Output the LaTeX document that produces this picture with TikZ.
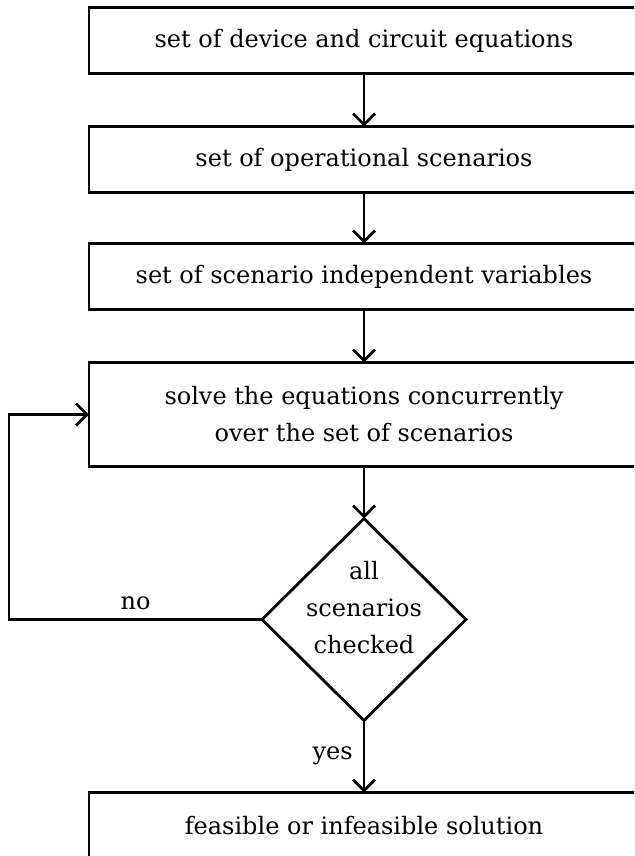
\documentclass[tikz,border=0pt]{standalone}
\usepackage{fontspec}
\setmainfont{DejaVu Serif}
\usetikzlibrary{arrows.meta,positioning,shapes.geometric}

\tikzset{
  stage/.style={draw, line width=2.8pt, minimum width=550pt, minimum height=66pt,
    inner sep=0pt, outer sep=0pt, align=center, font=\fontsize{24}{37}\selectfont},
  decision/.style={draw, diamond, line width=2.8pt, minimum width=204pt,
    minimum height=202pt, inner sep=0pt, outer sep=0pt},
  flow/.style={line width=2.8pt, -{Straight Barb[length=11pt,width=22pt,line width=2.8pt]}},
  tag/.style={font=\fontsize{24}{37}\selectfont, inner sep=2pt}
}

\begin{document}
\begin{tikzpicture}[x=1pt, y=1pt]
\useasboundingbox (0,0) rectangle (634,-856);
\clip (0,0) rectangle (634,-856);

\node[stage] (eqs) at (364,-40.5) {set of device and circuit equations};
\node[stage, below=53pt of eqs] (scen) {set of operational scenarios};
\node[stage, below=51pt of scen] (vars) {set of scenario independent variables};
\node[stage, below=53pt of vars, minimum height=104pt] (solve)
  {solve the equations concurrently\\over the set of scenarios};
\node[decision, below=52pt of solve] (check) {};
\node[tag, align=center, yshift=12pt] (checktext) at (check) {all\\scenarios\\checked};
\node[stage, below=72pt of check] (result) {feasible or infeasible solution};

\draw[flow] (eqs) -- (scen);
\draw[flow] (scen) -- (vars);
\draw[flow] (vars) -- (solve);
\draw[flow] (solve) -- (check);
\draw[flow] (check) -- node[tag, left=8pt, pos=0.49] (yes) {yes} (result);

% loop back when not all scenarios are done
\coordinate (back) at (9,0);
\draw[flow] (check.west) -- node[tag, above=6pt, pos=0.5] (no) {no} (check.west -| back)
  -- (solve.west -| back) -- (solve.west);
\end{tikzpicture}
\end{document}
